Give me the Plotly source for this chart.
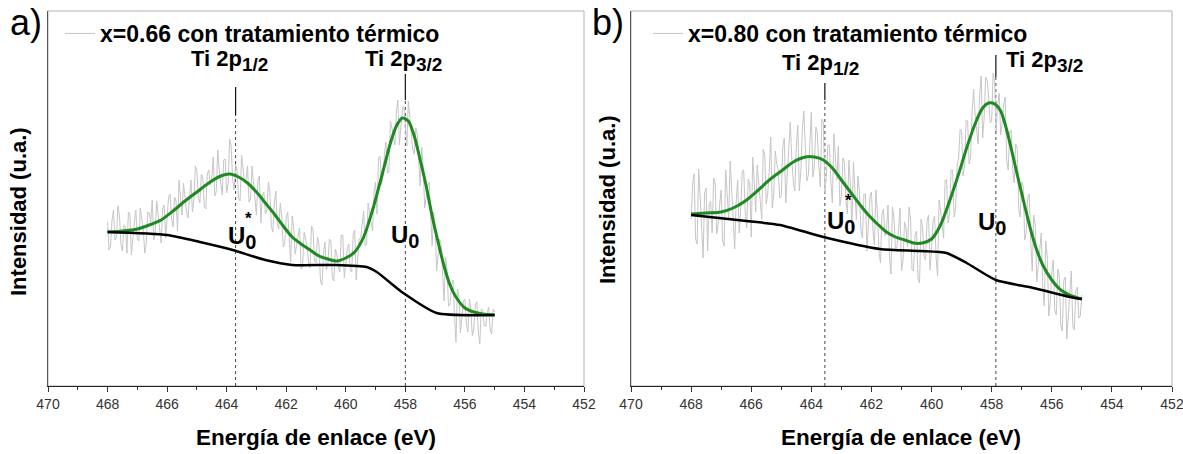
import numpy as np
import plotly.graph_objects as go

# ---------------- data ----------------
E_START, E_STOP, E_STEP = 468.0, 455.0, 0.05
energy = np.round(np.arange(E_START, E_STOP - 0.01, -E_STEP), 2)

raw_a = [164, 136, 140, 166, 176, 146, 149, 180, 170, 141, 135, 161, 159, 133, 174, 172, 131, 152, 164, 176,
         147, 145, 178, 167, 156, 133, 142, 174, 173, 164, 186, 146, 154, 185, 169, 155, 143, 177, 181, 148,
         166, 189, 192, 168, 159, 189, 185, 155, 206, 189, 171, 203, 187, 175, 168, 193, 206, 174, 186, 220,
         215, 188, 183, 212, 208, 179, 177, 212, 216, 201, 208, 229, 190, 194, 236, 216, 202, 191, 226, 227,
         193, 203, 247, 240, 207, 196, 222, 215, 188, 185, 231, 218, 203, 206, 220, 184, 187, 220, 203, 187,
         171, 206, 210, 163, 191, 194, 172, 176, 204, 194, 160, 154, 182, 195, 162, 157, 183, 169, 139, 143,
         169, 174, 150, 124, 170, 159, 132, 143, 150, 158, 117, 119, 154, 147, 139, 124, 118, 160, 156, 125,
         123, 149, 141, 105, 101, 131, 144, 116, 123, 147, 145, 108, 105, 137, 132, 119, 114, 151, 151, 108,
         122, 137, 142, 116, 114, 152, 156, 106, 128, 147, 148, 162, 175, 140, 142, 183, 174, 162, 155, 194,
         204, 172, 228, 230, 201, 210, 233, 244, 213, 214, 265, 258, 248, 241, 275, 286, 241, 262, 277, 280,
         256, 240, 285, 270, 256, 236, 232, 258, 252, 222, 200, 239, 219, 178, 191, 199, 204, 162, 140, 174,
         159, 115, 129, 147, 142, 114, 85, 129, 116, 80, 81, 101, 106, 71, 44, 97, 90, 53, 67, 85,
         87, 63, 54, 87, 77, 50, 57, 81, 84, 54, 42, 77, 76, 61, 59, 73, 79, 56, 52, 77,
         74]

raw_b = [167, 202, 212, 147, 142, 217, 190, 158, 128, 193, 198, 135, 181, 185, 153, 208, 203, 152, 162, 182,
         196, 145, 140, 216, 191, 167, 225, 196, 160, 137, 185, 206, 153, 177, 215, 216, 175, 158, 207, 202,
         149, 229, 204, 174, 221, 203, 183, 167, 237, 231, 182, 193, 215, 249, 178, 192, 235, 222, 216, 188,
         190, 239, 248, 183, 212, 237, 264, 227, 204, 195, 240, 261, 195, 214, 256, 275, 235, 205, 211, 241,
         274, 209, 219, 259, 253, 220, 199, 267, 264, 193, 210, 241, 241, 204, 183, 252, 224, 206, 240, 180,
         190, 228, 224, 186, 172, 226, 202, 158, 224, 198, 166, 210, 194, 156, 148, 192, 192, 135, 163, 190,
         194, 155, 141, 196, 172, 135, 123, 172, 177, 150, 156, 181, 130, 112, 179, 168, 135, 139, 156, 178,
         115, 125, 164, 158, 139, 179, 168, 116, 115, 151, 155, 107, 103, 167, 158, 130, 126, 165, 171, 116,
         137, 165, 170, 129, 110, 186, 175, 157, 148, 206, 206, 163, 173, 216, 216, 169, 177, 220, 228, 257,
         255, 210, 221, 266, 265, 222, 230, 275, 297, 271, 258, 242, 291, 310, 248, 268, 309, 306, 289, 263,
         265, 313, 304, 255, 281, 293, 251, 263, 282, 289, 226, 216, 254, 256, 215, 203, 242, 238, 177, 169,
         204, 200, 146, 154, 188, 192, 146, 115, 171, 161, 104, 120, 142, 153, 99, 80, 145, 129, 70, 84,
         114, 126, 76, 71, 117, 110, 61, 55, 106, 109, 47, 72, 101, 115, 60, 56, 95, 99, 68, 70,
         91]

fit_a_E = [468.0, 467.5, 467.0, 466.6, 466.2, 465.8, 465.4, 465.0, 464.6, 464.2,
           463.9, 463.6, 463.3, 463.0, 462.7, 462.4, 462.1, 461.8, 461.5, 461.2,
           460.9, 460.6, 460.3, 460.0, 459.7, 459.4, 459.1, 458.8, 458.5, 458.3,
           458.1, 457.9, 457.7, 457.5, 457.3, 457.1, 456.9, 456.7, 456.5, 456.3,
           456.0, 455.7, 455.4, 455.0]
fit_a_I = [154, 155, 157, 161, 166, 175, 185, 194, 203, 210,
           212, 209, 203, 194, 183, 172, 160, 149, 142, 136,
           130, 127, 125, 128, 134, 149, 176, 209, 243, 260,
           268, 265, 250, 226, 200, 170, 144, 120, 101, 89,
           78, 74, 72, 71]

bg_a_E = [468.0, 466.0, 464.9, 463.8, 462.7, 461.8, 460.4, 459.3, 458.96, 458.07, 456.95, 455.0]
bg_a_I = [154, 151, 144, 136, 126, 121, 121, 119, 114, 93, 73, 71]

fit_b_E = [468.0, 467.5, 467.0, 466.6, 466.2, 465.8, 465.4, 465.0, 464.6, 464.2,
           463.9, 463.6, 463.3, 463.0, 462.7, 462.4, 462.1, 461.8, 461.5, 461.2,
           460.9, 460.6, 460.3, 460.0, 459.7, 459.4, 459.1, 458.8, 458.5, 458.3,
           458.1, 457.9, 457.7, 457.5, 457.3, 457.1, 456.9, 456.7, 456.5, 456.3,
           456.0, 455.7, 455.4, 455.0]
fit_b_I = [172, 173, 174, 178, 185, 195, 206, 215, 224, 229,
           229, 226, 218, 206, 194, 182, 171, 162, 154, 149,
           146, 143, 143, 147, 161, 185, 212, 241, 266, 278,
           283, 282, 275, 256, 231, 205, 180, 156, 136, 121,
           106, 96, 91, 87]

bg_b_E = [468.0, 466.15, 465.04, 463.6, 461.72, 460.39, 459.5, 458.83, 457.86, 456.62, 455.23, 455.0]
bg_b_I = [171, 165, 161, 149, 137, 135, 133, 123, 106, 98, 88, 87]

labels = ["x=0.66 con tratamiento térmico", "x=0.80 con tratamiento térmico"]
peak_pos_a = [463.7, 458.0]
peak_pos_b = [463.55, 457.86]

X_TICKS = [470, 468, 466, 464, 462, 460, 458, 456, 454, 452]

GRAY = "#c6c6c6"
GREEN = "#1f8a22"
FONT = "Arial"

fig = go.Figure()

panels = [
    dict(raw=raw_a, fE=fit_a_E, fI=fit_a_I, bE=bg_a_E, bI=bg_a_I, name=labels[0],
         xa="x", ya="y", legend="legend"),
    dict(raw=raw_b, fE=fit_b_E, fI=fit_b_I, bE=bg_b_E, bI=bg_b_I, name=labels[1],
         xa="x2", ya="y2", legend="legend2"),
]

for p in panels:
    fig.add_trace(go.Scatter(x=energy, y=p["raw"], mode="lines",
                             line=dict(color=GRAY, width=1),
                             name="<b>" + p["name"] + "</b>",
                             xaxis=p["xa"], yaxis=p["ya"], legend=p["legend"]))
    fig.add_trace(go.Scatter(x=p["fE"], y=p["fI"], mode="lines",
                             line=dict(color=GREEN, width=3, shape="spline", smoothing=0.8),
                             showlegend=False, xaxis=p["xa"], yaxis=p["ya"]))
    fig.add_trace(go.Scatter(x=p["bE"], y=p["bI"], mode="lines",
                             line=dict(color="black", width=2.5, shape="spline", smoothing=0.6),
                             showlegend=False, xaxis=p["xa"], yaxis=p["ya"]))

W, H = 1183, 454
TOP = 11
BOT = 386
dom_y = [1 - BOT / H, 1 - TOP / H]
dom_x1 = [48 / W, 584 / W]
dom_x2 = [631 / W, 1172 / W]
YMAX = BOT - TOP

xaxis_common = dict(range=[470, 452], tickmode="array", tickvals=X_TICKS,
                    ticks="outside", ticklen=5, tickwidth=1, tickcolor="#333",
                    showline=True, linecolor="#222", linewidth=1,
                    showgrid=False, zeroline=False, automargin=False,
                    ticklabeloverflow="allow",
                    tickfont=dict(family=FONT, size=14, color="#333"),
                    minor=dict(dtick=1, ticks="outside", ticklen=3, tickcolor="#333", showgrid=False))
yaxis_common = dict(range=[0, YMAX], showticklabels=False, ticks="", showgrid=False,
                    zeroline=False, showline=True, linecolor="#555", linewidth=1,
                    automargin=False)

fig.update_layout(
    width=W, height=H, autosize=False,
    margin=dict(l=0, r=0, t=0, b=0, autoexpand=False),
    paper_bgcolor="white", plot_bgcolor="white",
    xaxis=dict(domain=dom_x1, anchor="y", **xaxis_common),
    yaxis=dict(domain=dom_y, anchor="x", **yaxis_common),
    xaxis2=dict(domain=dom_x2, anchor="y2", **xaxis_common),
    yaxis2=dict(domain=dom_y, anchor="x2", **yaxis_common),
    legend=dict(x=60 / W, y=1 - 12 / H, xanchor="left", yanchor="top",
                bgcolor="rgba(0,0,0,0)", font=dict(family=FONT, size=23, color="black")),
    legend2=dict(x=648 / W, y=1 - 12 / H, xanchor="left", yanchor="top",
                 bgcolor="rgba(0,0,0,0)", font=dict(family=FONT, size=23, color="black")),
    showlegend=True,
)

# frame (top/right) light gray
for dx in (dom_x1, dom_x2):
    fig.add_shape(type="rect", xref="paper", yref="paper", x0=dx[0], x1=dx[1],
                  y0=dom_y[0], y1=dom_y[1], line=dict(color="#b0b0b0", width=1), layer="below")

# peak marker lines
marks = [
    ("x", "y", peak_pos_a[0], 271, 299),
    ("x", "y", peak_pos_a[1], 286, 312),
    ("x2", "y2", peak_pos_b[0], 286, 303),
    ("x2", "y2", peak_pos_b[1], 309, 331),
]
for xr, yr, xv, ylo, yhi in marks:
    fig.add_shape(type="line", xref=xr, yref=yr, x0=xv, x1=xv, y0=0, y1=ylo,
                  line=dict(color="#444", width=1, dash="dot"), layer="below")
    fig.add_shape(type="line", xref=xr, yref=yr, x0=xv, x1=xv, y0=ylo, y1=yhi,
                  line=dict(color="#111", width=1.2))

def ann(text, x, y, xref, yref, size, bold=True, xanchor="center", yanchor="middle", **kw):
    t = "<b>" + text + "</b>" if bold else text
    fig.add_annotation(text=t, x=x, y=y, xref=xref, yref=yref, showarrow=False,
                       xanchor=xanchor, yanchor=yanchor,
                       font=dict(family=FONT, size=size, color="black"), **kw)

def sub(s, size):
    return "<sub><span style='font-size:%dpx'>%s</span></sub>" % (size, s)

# Ti labels
ann("Ti 2p" + sub("1/2", 19), 463.89, 342, "x", "y", 22, yanchor="top")
ann("Ti 2p" + sub("3/2", 19), 458.06, 342, "x", "y", 22, yanchor="top")
ann("Ti 2p" + sub("1/2", 19), 463.68, 338, "x2", "y2", 22, yanchor="top")
ann("Ti 2p" + sub("3/2", 19), 456.23, 341, "x2", "y2", 22, yanchor="top")

# U labels
ann("U" + sub("0", 20), 463.49, 148, "x", "y", 24)
ann("*", 463.28, 167, "x", "y", 17)
ann("U" + sub("0", 20), 458.01, 149, "x", "y", 24)
ann("U" + sub("0", 20), 463.01, 163, "x2", "y2", 24)
ann("*", 462.78, 185, "x2", "y2", 17)
ann("U" + sub("0", 20), 457.99, 162, "x2", "y2", 24)

# axis titles
for cx in (316 / W, 901 / W):
    ann("Energía de enlace (eV)", cx, 1 - 437 / H, "paper", "paper", 22.5)
for cx, cy in ((18 / W, 1 - 212 / H), (607 / W, 1 - 200 / H)):
    ann("Intensidad (u.a.)", cx, cy, "paper", "paper", 22, textangle=-90)

# panel letters
ann("a)", 26 / W, 1 - 23 / H, "paper", "paper", 36, bold=False)
ann("b)", 608 / W, 1 - 22 / H, "paper", "paper", 36, bold=False)

fig.write_html("out.html")
